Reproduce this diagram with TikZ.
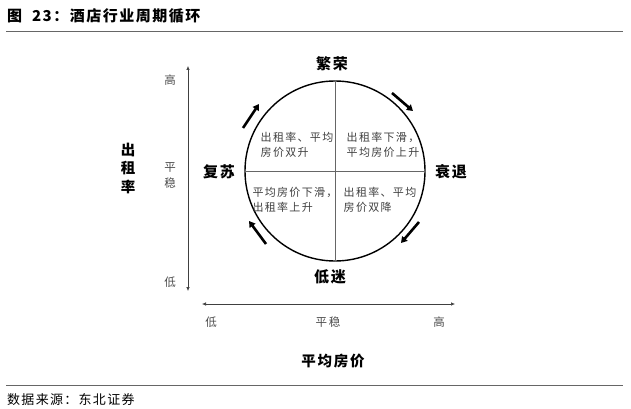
\documentclass[tikz,border=0pt]{standalone}
\usepackage{fontspec}
\setmainfont{Noto Sans CJK SC}
\usetikzlibrary{arrows.meta}
\begin{document}
\begin{tikzpicture}[x=1pt,y=-1pt,
 phase/.style={font=\bfseries\fontsize{15}{17}\selectfont\addfontfeatures{LetterSpace=12}, inner sep=0},
 quad/.style={font=\fontsize{11}{15.5}\selectfont\addfontfeatures{LetterSpace=12}, text=black!75, align=left, inner sep=0},
 tickl/.style={font=\fontsize{11.5}{16}\selectfont\addfontfeatures{LetterSpace=15}, text=black!70, inner sep=0, align=center},
 axname/.style={font=\bfseries\fontsize{14.5}{18.5}\selectfont\addfontfeatures{LetterSpace=12}, inner sep=0, align=center},
 cyc/.style={line width=2.6pt, -{Triangle[length=6pt,width=7pt]}},
 axis/.style={line width=0.6pt, draw=black!75, {Latex[length=4pt,width=3.5pt]}-{Latex[length=4pt,width=3.5pt]}},
 rule/.style={line width=1pt, draw=black!60}]
\useasboundingbox (0,0) rectangle (631,409);
% title and rules
\node[anchor=west, font=\bfseries\fontsize{15}{17}\selectfont\addfontfeatures{LetterSpace=10}, inner sep=0] (title) at (7,16) {图\ \ 23：酒店行业周期循环};
\coordinate (r1a) at (6,32); \coordinate (r1b) at (623,32);
\coordinate (r2a) at (6,385); \coordinate (r2b) at (623,385);
\draw[rule] (r1a) -- (r1b);
\draw[rule] (r2a) -- (r2b);
\node[anchor=west, font=\fontsize{13}{15}\selectfont\addfontfeatures{LetterSpace=10}, inner sep=0] (src) at (7,400) {数据来源：东北证券};
% circle
\node[circle, draw, line width=1.4pt, minimum size=180pt, inner sep=0] (c) at (335,171) {};
\draw[line width=0.5pt, black!60] (c.north) -- (c.south);
\draw[line width=0.5pt, black!60] (c.west) -- (c.east);
% phases
\node[phase] (fanrong) at (332,64) {繁荣};
\node[phase] (shuaitui) at (451,172) {衰退};
\node[phase] (dimi) at (330,277) {低迷};
\node[phase] (fusu) at (219,172) {复苏};
% quadrants
\node[quad] (q1) at (297,145) {出租率、平均\\房价双升};
\node[quad] (q2) at (383,145) {出租率下滑，\\平均房价上升};
\node[quad] (q3) at (295,200) {平均房价下滑，\\出租率上升};
\node[quad] (q4) at (380,200) {出租率、平均\\房价双降};
% cycle arrows
\coordinate (a1s) at (243,128); \coordinate (a1e) at (259,104);
\coordinate (a2s) at (392,93);  \coordinate (a2e) at (413,111);
\coordinate (a3s) at (419,222); \coordinate (a3e) at (401,243);
\coordinate (a4s) at (266,244); \coordinate (a4e) at (249,221);
\draw[cyc] (a1s) -- (a1e);
\draw[cyc] (a2s) -- (a2e);
\draw[cyc] (a3s) -- (a3e);
\draw[cyc] (a4s) -- (a4e);
% vertical axis
\coordinate (yt) at (188,66); \coordinate (yb) at (188,291);
\draw[axis] (yt) -- (yb);
\node[tickl] (yhi) at (170,80) {高};
\node[tickl] (ymid) at (170,176) {平\\稳};
\node[tickl] (ylo) at (170,282) {低};
\node[axname] (yname) at (128,168) {出\\租\\率};
% horizontal axis
\coordinate (xl) at (202,304); \coordinate (xr) at (455,304);
\draw[axis] (xl) -- (xr);
\node[tickl] (xlo) at (211,322) {低};
\node[tickl] (xmid) at (328,322) {平稳};
\node[tickl] (xhi) at (439,322) {高};
\node[axname] (xname) at (333,361) {平均房价};
\end{tikzpicture}
\end{document}
